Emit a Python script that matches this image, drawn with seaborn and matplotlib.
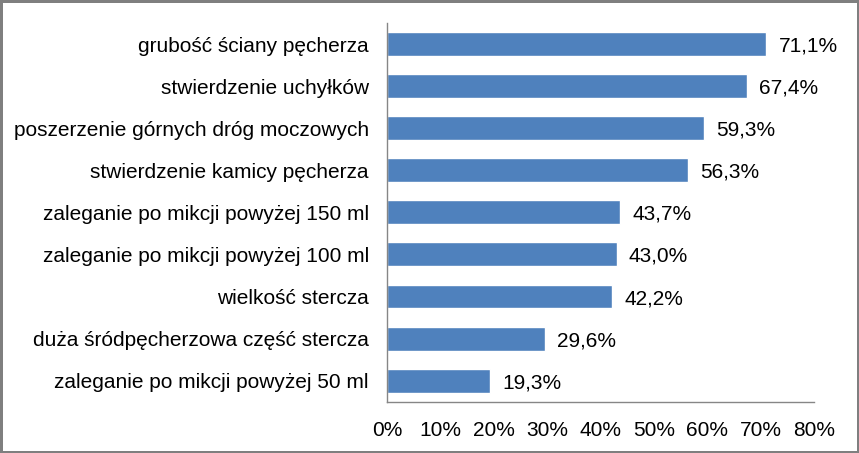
import matplotlib
matplotlib.use("Agg")
import matplotlib.pyplot as plt
import matplotlib.patches as mpatches
import seaborn as sns
import pandas as pd

categories = [
    "grubość ściany pęcherza",
    "stwierdzenie uchyłków",
    "poszerzenie górnych dróg moczowych",
    "stwierdzenie kamicy pęcherza",
    "zaleganie po mikcji powyżej 150 ml",
    "zaleganie po mikcji powyżej 100 ml",
    "wielkość stercza",
    "duża śródpęcherzowa część stercza",
    "zaleganie po mikcji powyżej 50 ml",
]
values = [71.1, 67.4, 59.3, 56.3, 43.7, 43.0, 42.2, 29.6, 19.3]
xticks = [0, 10, 20, 30, 40, 50, 60, 70, 80]
xtick_labels = ["0%", "10%", "20%", "30%", "40%", "50%", "60%", "70%", "80%"]

sns.set_style("white")
plt.rcParams["font.family"] = ["Liberation Sans", "DejaVu Sans"]

df = pd.DataFrame({"cat": categories, "val": values})

fig = plt.figure(figsize=(8.59, 4.53), dpi=100)
ax = fig.add_axes([387 / 859, 1 - 401.7 / 453, (814 - 387) / 859, (401.7 - 23) / 453])

sns.barplot(data=df, x="val", y="cat", orient="h", color="#4F81BD",
            width=0.57, saturation=1, ax=ax)

ax.set_xlim(0, 80)
ax.set_ylim(8.5, -0.5)
ax.set_xticks(xticks)
ax.set_xticklabels(xtick_labels)
ax.set_xlabel("")
ax.set_ylabel("")
ax.tick_params(axis="x", length=0, pad=14, labelsize=15, colors="black")
ax.tick_params(axis="y", length=0, pad=13, labelsize=15, colors="black")
for lbl in ax.get_yticklabels():
    lbl.set_verticalalignment("center_baseline")

for s in ["top", "right"]:
    ax.spines[s].set_visible(False)
for s in ["left", "bottom"]:
    ax.spines[s].set_color("#868686")
    ax.spines[s].set_linewidth(1.0)

for i, v in enumerate(values):
    ax.text(v + 2.3, i, f"{v:.1f}%".replace(".", ","), va="center_baseline", ha="left",
            fontsize=15, color="black")

frame = mpatches.Rectangle((0, 0), 1, 1, transform=fig.transFigure,
                           fill=False, edgecolor="#7f7f7f", linewidth=3.6,
                           zorder=10)
fig.patches.append(frame)

fig.savefig("out.png", dpi=100, facecolor="white")
